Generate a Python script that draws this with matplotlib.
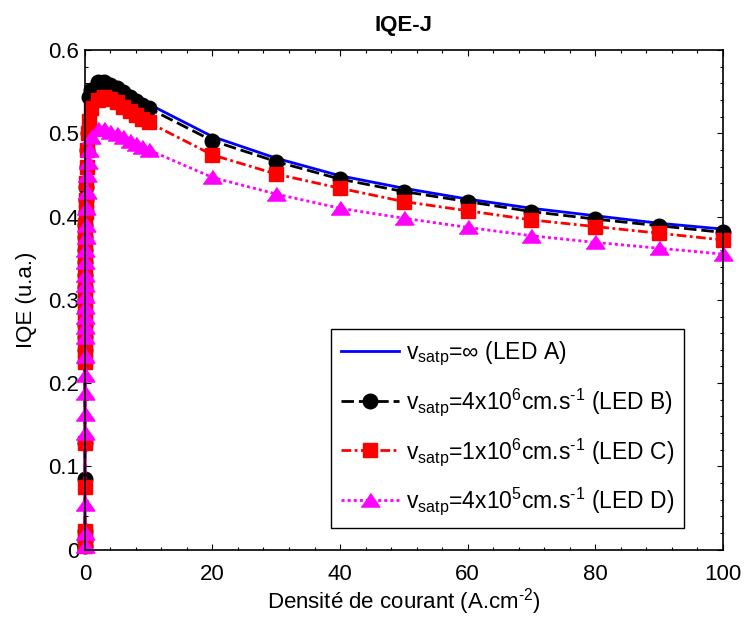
import matplotlib
matplotlib.use('Agg')
import matplotlib.pyplot as plt
from matplotlib.ticker import MultipleLocator

plt.rcParams['font.family'] = ['Liberation Sans', 'DejaVu Sans']
plt.rcParams['mathtext.fontset'] = 'custom'
plt.rcParams['mathtext.rm'] = 'Liberation Sans'
plt.rcParams['mathtext.it'] = 'Liberation Sans:italic'
plt.rcParams['lines.scale_dashes'] = False

# current density (A.cm-2)
J = [0, 0.0005, 0.001, 0.002, 0.003, 0.004, 0.005, 0.006, 0.008, 0.01,
     0.015, 0.02, 0.03, 0.04, 0.05, 0.06, 0.08, 0.1, 0.15, 0.2,
     0.3, 0.4, 0.5, 0.7,
     1, 2, 3, 4, 5, 6, 7, 8, 9, 10,
     20, 30, 40, 50, 60, 70, 80, 90, 100]

# IQE values
iqe_A = [0.006, 0.015, 0.027, 0.09, 0.135, 0.195, 0.235, 0.255, 0.27, 0.285,
         0.30, 0.315, 0.33, 0.345, 0.36, 0.375, 0.39, 0.405, 0.42, 0.44,
         0.465, 0.49, 0.515, 0.535,
         0.556, 0.565, 0.565, 0.562, 0.558, 0.553, 0.548, 0.544, 0.539, 0.535,
         0.496, 0.470, 0.449, 0.434, 0.421, 0.410, 0.401, 0.392, 0.385]
iqe_B = [0.005, 0.012, 0.022, 0.085, 0.128, 0.225, 0.24, 0.255, 0.27, 0.285,
         0.30, 0.315, 0.33, 0.345, 0.36, 0.375, 0.39, 0.405, 0.42, 0.436,
         0.46, 0.48, 0.50, 0.544,
         0.552, 0.561, 0.561, 0.558, 0.554, 0.549, 0.544, 0.539, 0.534, 0.530,
         0.491, 0.466, 0.445, 0.430, 0.418, 0.406, 0.397, 0.389, 0.381]
iqe_C = [0.005, 0.012, 0.022, 0.075, 0.128, 0.225, 0.24, 0.255, 0.27, 0.285,
         0.30, 0.315, 0.33, 0.345, 0.36, 0.375, 0.39, 0.405, 0.42, 0.44,
         0.46, 0.48, 0.50, 0.515,
         0.530, 0.540, 0.543, 0.541, 0.537, 0.532, 0.527, 0.522, 0.517, 0.513,
         0.474, 0.451, 0.434, 0.418, 0.407, 0.396, 0.388, 0.380, 0.372]
iqe_D = [0.004, 0.02, 0.055, 0.14, 0.163, 0.188, 0.21, 0.233, 0.255, 0.268,
         0.28, 0.292, 0.305, 0.318, 0.33, 0.345, 0.36, 0.375, 0.39, 0.41,
         0.43, 0.45, 0.465, 0.48,
         0.495, 0.505, 0.505, 0.502, 0.499, 0.495, 0.491, 0.487, 0.483, 0.480,
         0.447, 0.427, 0.410, 0.398, 0.387, 0.377, 0.369, 0.362, 0.355]

labels = [r'v$_\mathrm{satp}$=$\infty$ (LED A)',
          r'v$_\mathrm{satp}$=4x10$^\mathrm{6}$cm.s$^{\text{-1}}$ (LED B)',
          r'v$_\mathrm{satp}$=1x10$^\mathrm{6}$cm.s$^{\text{-1}}$ (LED C)',
          r'v$_\mathrm{satp}$=4x10$^\mathrm{5}$cm.s$^{\text{-1}}$ (LED D)']

tri = [(-1, -0.7), (1, -0.7), (0, 0.75)]

fig = plt.figure(figsize=(7.45, 6.17), dpi=100)
ax = fig.add_axes([0.114, 0.109, 0.856, 0.81])

ax.plot(J, iqe_A, color='#0000ff', lw=2, label=labels[0], clip_on=False)
ax.plot(J, iqe_B, color='black', lw=2, dashes=(9, 3.5), marker='o', ms=10.5,
        label=labels[1], clip_on=False)
ax.plot(J, iqe_C, color='#ff0000', lw=2, dashes=(7, 2.5, 2, 2.5), marker='s', ms=10.5,
        label=labels[2], clip_on=False)
ax.plot(J, iqe_D, color='#ff00ff', lw=2, dashes=(2.2, 2.2), marker=tri, ms=13.5,
        label=labels[3], clip_on=False)

ax.set_xlim(0, 100)
ax.set_ylim(0, 0.6)
ax.xaxis.set_major_locator(MultipleLocator(20))
ax.xaxis.set_minor_locator(MultipleLocator(4))
ax.set_yticks([0, 0.1, 0.2, 0.3, 0.4, 0.5, 0.6])
ax.set_yticklabels(['0', '0.1', '0.2', '0.3', '0.4', '0.5', '0.6'])
ax.yaxis.set_minor_locator(MultipleLocator(0.02))
ax.tick_params(which='both', direction='in', top=True, right=True, labelsize=16)
ax.tick_params(axis='x', which='major', pad=10)
ax.tick_params(axis='y', which='major', pad=4)
ax.tick_params(which='major', length=4, width=0.8)
ax.tick_params(which='minor', length=2, width=0.8)
for s in ax.spines.values():
    s.set_linewidth(1.2)

ax.set_title('IQE-J', fontsize=16, fontweight='bold', pad=14)
ax.set_xlabel(r'Densité de courant (A.cm$^{\text{-2}}$)', fontsize=16, labelpad=1)
ax.set_ylabel('IQE (u.a.)', fontsize=16, labelpad=8)

leg = ax.legend(loc='lower left', bbox_to_anchor=(0.386, 0.044), fontsize=16.5,
                numpoints=1, handlelength=2.5, handletextpad=0.3,
                labelspacing=0.8, borderpad=0.45, borderaxespad=0,
                fancybox=False, framealpha=1, edgecolor='black')
leg.get_frame().set_linewidth(1.0)

fig.savefig('out.png', dpi=100)
